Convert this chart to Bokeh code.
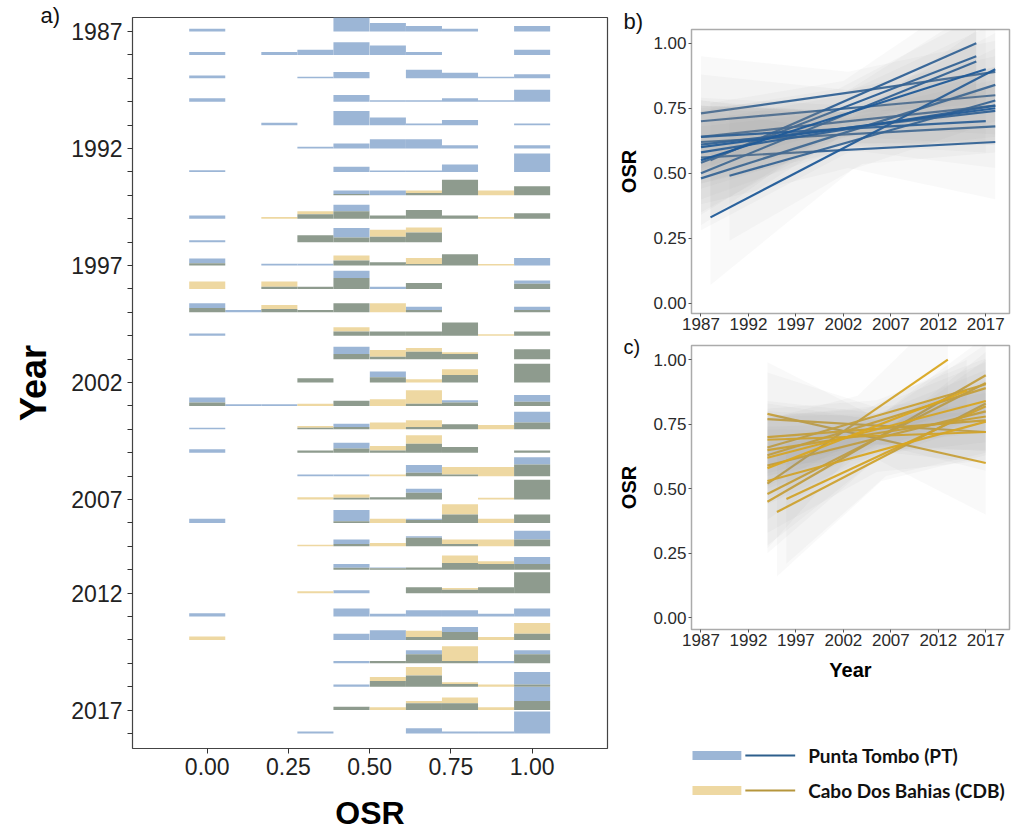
from bokeh.plotting import figure
from bokeh.layouts import row, column
from bokeh.models import (Range1d, FixedTicker, Title, ColumnDataSource,
                          NumeralTickFormatter)
from bokeh.core.properties import value
from bokeh.embed import file_html
from bokeh.resources import INLINE

# ---------------- data ----------------
YEARS = [1987, 1988, 1989, 1990, 1991, 1992, 1993, 1994, 1995, 1996, 1997,
         1998, 1999, 2000, 2001, 2002, 2003, 2004, 2005, 2006, 2007, 2008,
         2009, 2010, 2012, 2013, 2014, 2015, 2016, 2017, 2018]
YEAR_LABELS = [1987, 1992, 1997, 2002, 2007, 2012, 2017]
OSR_BINS = [0.000, 0.111, 0.222, 0.333, 0.444, 0.556, 0.667, 0.778, 0.889, 1.000]
BIN_WIDTH = 0.111

# relative histogram heights per year (rows) and OSR bin (columns)
PT_HEIGHTS = [
    [1, 0, 0, 0, 5, 3, 2, 1, 0, 2],
    [1, 0, 1, 1.8, 4.5, 3.3, 1, 0, 0, 1.8],
    [1, 0, 0, 0.6, 2.2, 0, 3, 2, 0.6, 1.4],
    [1.2, 0, 0, 0, 2.4, 0.5, 0.5, 1.2, 0.5, 4.2],
    [0, 0, 0.8, 0, 5, 2.7, 0.6, 1.8, 0, 0.6],
    [0, 0, 0, 0.6, 1.8, 3.3, 3.3, 1.2, 0, 1.2],
    [0.6, 0, 0, 0, 1.8, 0.5, 0.5, 2.6, 0, 6.5],
    [0, 0, 0, 0, 1.7, 1.7, 0.8, 5.5, 0, 3.2],
    [1.1, 0, 0, 1.6, 4.9, 1.1, 3.1, 1.1, 0, 1.9],
    [0.7, 0, 0, 2.4, 5, 1.9, 3.4, 0, 0, 0],
    [2.5, 0, 0.6, 0.6, 1.8, 1.2, 0.5, 4, 0, 2.7],
    [0, 0, 0.8, 0.8, 6.4, 0.8, 2.1, 0, 0, 3],
    [3.2, 0.8, 1.2, 0.8, 3.2, 0, 2, 0, 0, 2],
    [0.8, 0, 0, 0, 1.5, 1.5, 1.5, 4.7, 0, 1.5],
    [0, 0, 0, 0, 4.4, 0.8, 2.6, 1.8, 0, 3.5],
    [0, 0, 0, 1.5, 0, 3.9, 0, 2.7, 0, 6.6],
    [3, 0.6, 0.6, 0, 1.8, 0, 0.8, 2, 0, 3.9],
    [0.6, 0, 0, 0.6, 2, 0, 0.8, 1.8, 0, 6.2],
    [1.2, 0, 0, 0.8, 3.5, 0.8, 3.2, 2, 0, 0.8],
    [0, 0, 0, 0.6, 0.6, 0, 3.9, 0.6, 0, 6.7],
    [0, 0, 0, 0, 0.6, 0.8, 3.8, 0, 0, 7],
    [1.5, 0, 0, 0, 4.6, 0, 1.5, 3, 0, 3],
    [0, 0, 0, 0, 2.4, 0, 3.6, 0.8, 0, 5.5],
    [0, 0, 0, 0, 2, 0.8, 0.8, 2.4, 2, 4.5],
    [0, 0, 0, 0, 1, 0, 2.1, 1.2, 2.1, 7.4],
    [1.2, 0, 0, 0, 2.8, 1, 2.2, 2.2, 1, 2.8],
    [0, 0, 0, 0, 2.2, 3.4, 1, 4.6, 0, 2.2],
    [0, 0, 0, 0, 0.8, 0.8, 4.6, 0.8, 0.8, 4.6],
    [0, 0, 0, 0, 0.8, 2, 4, 1, 0, 5.2],
    [0, 0, 0, 0, 1.2, 0, 2.4, 2.4, 0, 8.2],
    [0, 0, 0, 0.7, 0, 0, 1.9, 0.7, 0.7, 7.8],
]
CDB_HEIGHTS = [
    [0, 0, 0, 0, 0, 0, 0, 0, 0, 0],
    [0, 0, 0, 0, 0, 0, 0, 0, 0, 0],
    [0, 0, 0, 0, 0, 0, 0, 0, 0, 0],
    [0, 0, 0, 0, 0, 0, 0, 0, 0, 0],
    [0, 0, 0, 0, 0, 0, 0, 0, 0, 0],
    [0, 0, 0, 0, 0, 0, 0, 0, 0, 0],
    [0, 0, 0, 0, 0, 0, 0, 0, 0, 0],
    [0, 0, 0, 0, 0.5, 0, 1.7, 5.5, 1.7, 3.2],
    [0, 0, 0.6, 2.6, 2.6, 1.1, 3.1, 1.1, 0.6, 1.9],
    [0, 0, 0, 2.4, 1.6, 4.4, 5.2, 0, 0, 0],
    [0.8, 0, 0, 0, 3.5, 1.2, 2.7, 4, 0.5, 0],
    [2.6, 0, 2.6, 0.8, 3.9, 0, 2.1, 0, 0, 1.8],
    [1.5, 0, 2.6, 0.8, 3.2, 3.2, 0.8, 0, 0, 0.8],
    [0, 0, 0, 0, 3, 1.5, 1.5, 4.7, 0.5, 1.5],
    [0, 0, 0, 0, 1.8, 3.2, 3.9, 2.4, 0, 3.5],
    [0, 0, 0, 1.5, 0, 1.9, 1.2, 4.7, 0, 6.6],
    [1.2, 0, 0, 0.8, 1.8, 2.4, 5.5, 1.2, 0, 1.5],
    [0, 0, 0, 1.2, 0.8, 2.4, 3.2, 1.8, 1.5, 2.4],
    [0, 0, 0, 0.8, 1.5, 2.4, 6.2, 2, 0, 0.8],
    [0, 0, 0, 0, 0, 0.6, 1.2, 3.2, 3.2, 4.1],
    [0, 0, 0, 0.8, 1.8, 0.8, 2.4, 0, 0.6, 7],
    [0, 0, 0, 0, 0.6, 1.5, 1, 6.6, 1.5, 3],
    [0, 0, 0, 0.6, 0.8, 1.2, 3, 2.4, 2.4, 2.4],
    [0, 0, 0, 0, 0.7, 0.5, 0.8, 5, 3, 2],
    [0, 0, 0, 0.7, 0, 0, 2.1, 1.8, 2.1, 7.4],
    [0, 0, 0, 0, 0, 0, 0, 0, 0, 0],
    [1.2, 0, 0, 0, 0, 0, 3.2, 2.8, 1, 6],
    [0, 0, 0, 0, 0, 0.8, 3.2, 6, 0, 3.2],
    [0, 0, 0, 0, 0, 3.4, 7, 1.6, 0.8, 0.8],
    [0, 0, 0, 0, 1.2, 1, 3.2, 4.5, 1, 3.2],
    [0, 0, 0, 0, 0, 0, 0, 0, 0, 0],
]

# regression lines: start/end year, start/end OSR, CI half-width at start/mid/end
PT_X0 = [1987, 1987, 1987, 1987, 1987, 1988, 1987, 1987, 1987, 1990, 1987, 1987, 1987, 1988, 1987, 1987]
PT_X1 = [2018, 2018, 2018, 2018, 2018, 2016, 2016, 2016, 2018, 2018, 2018, 2017, 2018, 2018, 2018, 2017]
PT_Y0 = [0.73, 0.70, 0.64, 0.62, 0.56, 0.55, 0.54, 0.50, 0.48, 0.49, 0.61, 0.64, 0.58, 0.33, 0.60, 0.55]
PT_Y1 = [0.89, 0.80, 0.76, 0.68, 0.62, 1.00, 0.95, 0.93, 0.84, 0.78, 0.74, 0.70, 0.76, 0.90, 0.75, 0.90]
PT_HW0 = [0.22, 0.18, 0.15, 0.16, 0.18, 0.22, 0.20, 0.20, 0.20, 0.25, 0.15, 0.14, 0.18, 0.26, 0.16, 0.20]
PT_HWM = [0.08, 0.07, 0.06, 0.06, 0.07, 0.08, 0.08, 0.08, 0.08, 0.10, 0.06, 0.06, 0.07, 0.10, 0.06, 0.08]
PT_HW1 = [0.12, 0.15, 0.15, 0.16, 0.22, 0.20, 0.15, 0.20, 0.20, 0.20, 0.12, 0.12, 0.15, 0.20, 0.14, 0.16]

CDB_X0 = [1994, 1994, 1994, 1994, 1995, 1994, 1994, 1994, 1994, 1994, 1994, 1996, 1994, 1994, 1994, 1994]
CDB_X1 = [2017, 2017, 2013, 2017, 2017, 2017, 2017, 2017, 2017, 2017, 2017, 2017, 2017, 2017, 2017, 2015]
CDB_Y0 = [0.79, 0.77, 0.52, 0.45, 0.41, 0.48, 0.66, 0.63, 0.59, 0.70, 0.65, 0.46, 0.69, 0.53, 0.62, 0.58]
CDB_Y1 = [0.60, 0.72, 1.00, 0.94, 0.83, 0.91, 0.905, 0.89, 0.80, 0.765, 0.78, 0.82, 0.72, 0.76, 0.84, 0.88]
CDB_HW0 = [0.20, 0.18, 0.25, 0.20, 0.25, 0.20, 0.15, 0.15, 0.15, 0.14, 0.15, 0.25, 0.14, 0.20, 0.16, 0.20]
CDB_HWM = [0.08, 0.07, 0.10, 0.08, 0.09, 0.08, 0.06, 0.06, 0.06, 0.06, 0.06, 0.09, 0.06, 0.08, 0.06, 0.08]
CDB_HW1 = [0.20, 0.15, 0.20, 0.15, 0.20, 0.15, 0.10, 0.10, 0.12, 0.12, 0.13, 0.18, 0.12, 0.15, 0.12, 0.12]

SITES = ["Punta Tombo (PT)", "Cabo Dos Bahias (CDB)"]

# ---------------- styles ----------------
FONT = "Liberation Sans"
PT_BAR = "#9cb6d6"
CDB_BAR = "#eed8a2"
BOTH_BAR = "#8e9b8e"
PT_LINE = "#1f5a98"
CDB_LINE = "#d9a620"
PT_LEG_LINE = "#2d5f8c"
CDB_LEG_LINE = "#b6963c"
BAND = "#8a8a8a"
HSCALE = 0.121  # row-index units per height unit


def style_axes(p, tick_size, title_size, color="#222222"):
    for ax in (p.xaxis[0], p.yaxis[0]):
        ax.major_label_text_font = FONT
        ax.major_label_text_font_size = tick_size
        ax.major_label_text_color = color
        ax.axis_label_text_font = FONT
        ax.axis_label_text_font_style = "bold"
        ax.axis_label_text_font_size = title_size
        ax.axis_label_text_color = "#000000"
        ax.minor_tick_line_color = None
        ax.major_tick_in = 0
        ax.axis_line_color = None
    p.grid.visible = False


def add_tag(p, text, offset, standoff, size="22px"):
    kw = dict(text=text, align="left", offset=offset, text_font=FONT,
              text_font_size=size, text_font_style="normal", text_color="#111111")
    try:
        t = Title(standoff=standoff, **kw)
    except Exception:
        t = Title(standoff=0, **kw)
    p.add_layout(t, "above")


# ---------------- panel a ----------------
pa = figure(width=615, height=838, x_range=Range1d(-0.23, 1.232),
            y_range=Range1d(30.64, -0.6), output_backend="svg",
            toolbar_location=None, min_border_left=132, min_border_right=8,
            min_border_top=17, min_border_bottom=90)
style_axes(pa, "23px", "34px")
pa.outline_line_color = "#444444"
pa.outline_line_width = 1.2

layers = {c: dict(left=[], right=[], top=[], bottom=[]) for c in (PT_BAR, CDB_BAR, BOTH_BAR)}
for i, yr in enumerate(YEARS):
    for k, c in enumerate(OSR_BINS):
        b = PT_HEIGHTS[i][k]
        y = CDB_HEIGHTS[i][k]
        lo, hi = min(b, y), max(b, y)
        if lo > 0:
            d = layers[BOTH_BAR]
            d["left"].append(c - BIN_WIDTH / 2); d["right"].append(c + BIN_WIDTH / 2)
            d["bottom"].append(i); d["top"].append(i - lo * HSCALE)
        if hi > lo:
            d = layers[PT_BAR if b > y else CDB_BAR]
            d["left"].append(c - BIN_WIDTH / 2); d["right"].append(c + BIN_WIDTH / 2)
            d["bottom"].append(i - lo * HSCALE); d["top"].append(i - hi * HSCALE)
for col, d in layers.items():
    pa.quad(left="left", right="right", top="top", bottom="bottom",
            source=ColumnDataSource(d), fill_color=col, line_color=None)

pa.xaxis.ticker = FixedTicker(ticks=[0, 0.25, 0.5, 0.75, 1.0])
pa.xaxis.formatter = NumeralTickFormatter(format="0.00")
pa.xaxis.axis_label = "OSR"
pa.xaxis.axis_label_text_font_size = "32px"
pa.xaxis.major_tick_out = 5
pa.xaxis.major_label_standoff = 4
pa.xaxis.axis_label_standoff = 17
pa.yaxis.ticker = FixedTicker(ticks=list(range(len(YEARS))))
pa.yaxis.major_label_overrides = {i: (str(yr) if yr in YEAR_LABELS else "")
                                  for i, yr in enumerate(YEARS)}
pa.yaxis.axis_label = "Year"
pa.yaxis.axis_label_text_font_size = "36px"
pa.yaxis.major_tick_out = 5
pa.yaxis.major_label_standoff = 5
pa.yaxis.axis_label_standoff = 14
pa.xaxis.major_tick_line_color = "#333333"
pa.yaxis.major_tick_line_color = "#333333"
add_tag(pa, "a)", -92, -20)


# ---------------- panels b and c ----------------
def trend_panel(height, ybot, ytop, mb_top, mb_bottom, x0s, x1s, y0s, y1s,
                hw0s, hwms, hw1s, line_color, xlabel):
    p = figure(width=398, height=height, x_range=Range1d(1986.0, 2019.5),
               y_range=Range1d(ybot, ytop), output_backend="svg",
               toolbar_location=None, min_border_left=75, min_border_right=4,
               min_border_top=mb_top, min_border_bottom=mb_bottom)
    style_axes(p, "17px", "20px", color="#2a2a2a")
    p.outline_line_color = "#ababab"
    p.outline_line_width = 1.5
    for j in range(len(x0s)):
        xm = (x0s[j] + x1s[j]) / 2
        ym = (y0s[j] + y1s[j]) / 2
        xs = [x0s[j], xm, x1s[j], x1s[j], xm, x0s[j]]
        ys = [y0s[j] + hw0s[j], ym + hwms[j], y1s[j] + hw1s[j],
              y1s[j] - hw1s[j], ym - hwms[j], y0s[j] - hw0s[j]]
        p.patch(xs, ys, fill_color=BAND, fill_alpha=0.055, line_color=None)
        p.line([x0s[j], x1s[j]], [y0s[j], y1s[j]], line_color=line_color,
               line_width=2.2, line_alpha=0.95)
    p.xaxis.ticker = FixedTicker(ticks=[1987, 1992, 1997, 2002, 2007, 2012, 2017])
    p.yaxis.ticker = FixedTicker(ticks=[0, 0.25, 0.5, 0.75, 1.0])
    p.yaxis.formatter = NumeralTickFormatter(format="0.00")
    p.yaxis.axis_label = "OSR"
    p.xaxis.major_tick_out = 3
    p.yaxis.major_tick_out = 3
    p.xaxis.major_label_standoff = 1
    p.yaxis.major_label_standoff = 2
    p.yaxis.axis_label_standoff = 10
    p.xaxis.major_tick_line_color = "#555555"
    p.yaxis.major_tick_line_color = "#555555"
    if xlabel:
        p.xaxis.axis_label = xlabel
        p.xaxis.axis_label_standoff = 10
    return p


pb = trend_panel(337, -0.040, 1.053, 29, 24, PT_X0, PT_X1, PT_Y0, PT_Y1,
                 PT_HW0, PT_HWM, PT_HW1, PT_LINE, None)
add_tag(pb, "b)", -68, -8)
pc = trend_panel(352, -0.045, 1.055, 8, 60, CDB_X0, CDB_X1, CDB_Y0, CDB_Y1,
                 CDB_HW0, CDB_HWM, CDB_HW1, CDB_LINE, "Year")
add_tag(pc, "c)", -68, -24, size="20px")

# ---------------- legend (own canvas, ranges in page pixels) ----------------
pl = figure(width=398, height=149, x_axis_location=None, y_axis_location=None,
            output_backend="svg", toolbar_location=None, min_border_left=75,
            min_border_right=4, min_border_top=0, min_border_bottom=0,
            x_range=Range1d(690, 1009), y_range=Range1d(838, 689))
pl.outline_line_color = None
pl.grid.visible = False
ROW_Y = [755, 790]          # row centres
BAR_X = (691, 740)          # swatch extents
LINE_X = (744, 794)
TEXT_X = 807
leg = ColumnDataSource(dict(
    y=ROW_Y, label=SITES, bar=[PT_BAR, CDB_BAR], line=[PT_LEG_LINE, CDB_LEG_LINE],
    bl=[BAR_X[0]] * 2, br=[BAR_X[1]] * 2, bt=[v - 4.5 for v in ROW_Y],
    bb=[v + 4.5 for v in ROW_Y], lx0=[LINE_X[0]] * 2, lx1=[LINE_X[1]] * 2,
    tx=[TEXT_X] * 2))
pl.quad(left="bl", right="br", top="bt", bottom="bb", fill_color="bar",
        line_color=None, source=leg)
pl.segment(x0="lx0", y0="y", x1="lx1", y1="y", line_color="line",
           line_width=2.2, source=leg)
pl.text(x="tx", y="y", text="label", text_baseline="middle",
        text_font=value("Lato"), text_font_style="bold", text_font_size="19px",
        text_color="#111111", source=leg)

layout = row(pa, column(pb, pc, pl))
open("out.html", "w").write(file_html(layout, INLINE))
